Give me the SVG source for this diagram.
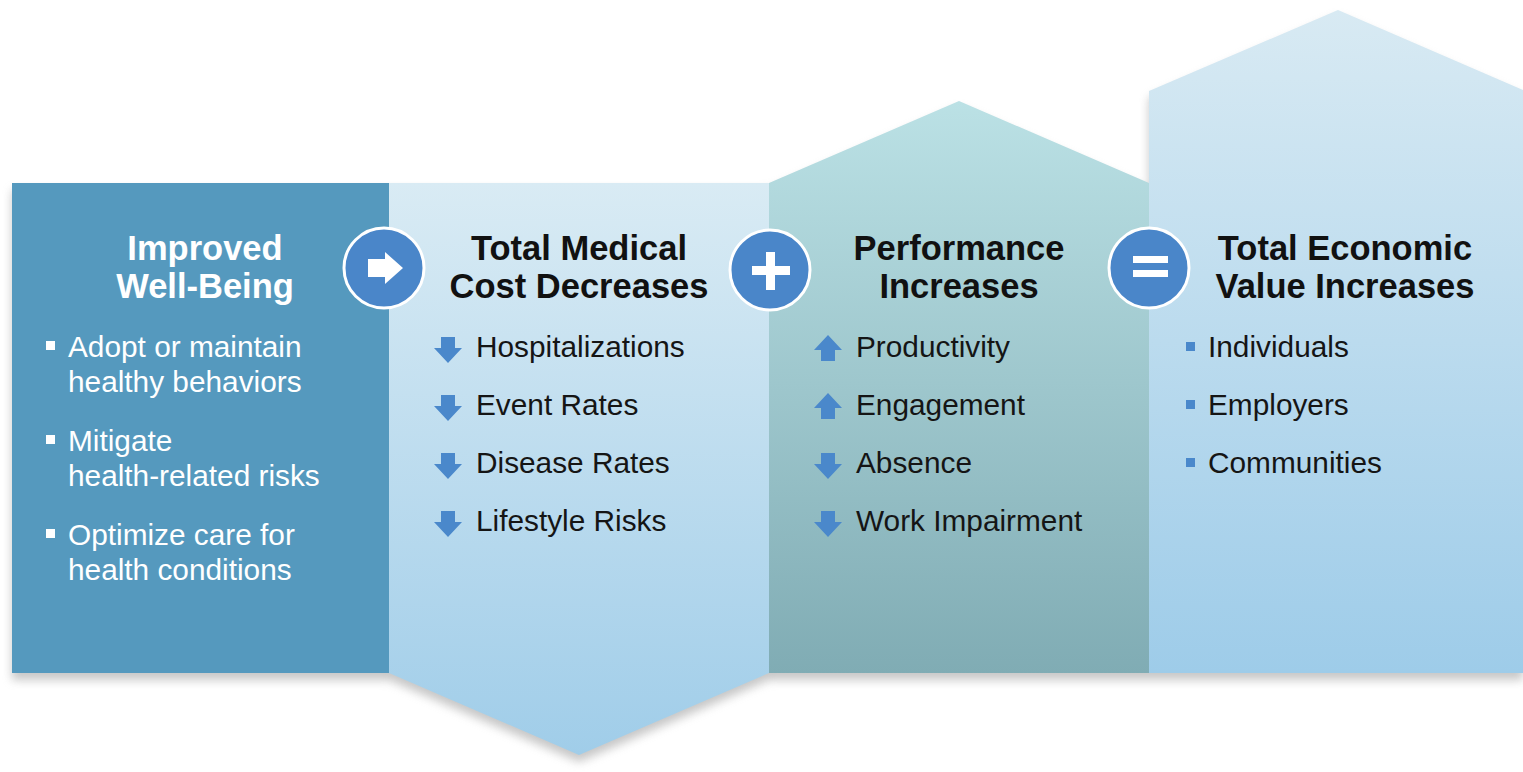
<svg xmlns="http://www.w3.org/2000/svg" width="1523" height="772" viewBox="0 0 1523 772">
  <defs>
    <linearGradient id="gCost" x1="0" y1="183" x2="0" y2="755" gradientUnits="userSpaceOnUse">
      <stop offset="0" stop-color="#d9ebf4"/>
      <stop offset="1" stop-color="#a0cde9"/>
    </linearGradient>
    <linearGradient id="gPerf" x1="0" y1="101" x2="0" y2="673" gradientUnits="userSpaceOnUse">
      <stop offset="0" stop-color="#bbe1e5"/>
      <stop offset="1" stop-color="#80acb4"/>
    </linearGradient>
    <linearGradient id="gValue" x1="0" y1="10" x2="0" y2="673" gradientUnits="userSpaceOnUse">
      <stop offset="0" stop-color="#d8eaf3"/>
      <stop offset="1" stop-color="#9ecce9"/>
    </linearGradient>
    <filter id="soft" x="-5%" y="-10%" width="110%" height="130%">
      <feGaussianBlur stdDeviation="5"/>
    </filter>
    <path id="arrowDown" d="M-7 -24 H7 V-13 H14 L0 2 L-14 -13 H-7 Z"/>
    <path id="arrowUp" d="M-7 2 H7 V-9 H14 L0 -24 L-14 -9 H-7 Z"/>
  </defs>
  <style>
    .title { font-family: "Liberation Sans", Arial, sans-serif; font-weight: bold; font-size: 34.5px; text-anchor: middle; fill: #111; }
    .title.light { fill: #ffffff; }
    .item { font-family: "Liberation Sans", Arial, sans-serif; font-size: 29.8px; fill: #151515; }
    .item.light { fill: #ffffff; }
    .icon { fill: #4a88cb; }
    .badge { fill: #4a86c9; stroke: #ffffff; stroke-width: 3; }
    .glyph { fill: #ffffff; }
  </style>

  <rect width="1523" height="772" fill="#ffffff"/>

  <!-- soft shadow under the whole band -->
  <path d="M12 183 L769 183 L959 101 L1149 183 L1149 91 L1338 10 L1523 90 L1523 673 L769 673 L579 755 L389 673 L12 673 Z"
        transform="translate(0,7)" fill="#9a9a9a" opacity="0.55" filter="url(#soft)"/>

  <!-- Improved Well-Being -->
  <g id="wellbeing">
    <rect x="12" y="183" width="377" height="490" fill="#5599be"/>
    <text class="title light" x="205" y="260">Improved</text>
    <text class="title light" x="205" y="298">Well-Being</text>
    <rect x="46" y="341" width="9" height="9" fill="#ffffff"/>
    <text class="item light" x="68" y="357">Adopt or maintain</text>
    <text class="item light" x="68" y="392">healthy behaviors</text>
    <rect x="46" y="435" width="9" height="9" fill="#ffffff"/>
    <text class="item light" x="68" y="451">Mitigate</text>
    <text class="item light" x="68" y="486">health-related risks</text>
    <rect x="46" y="529" width="9" height="9" fill="#ffffff"/>
    <text class="item light" x="68" y="545">Optimize care for</text>
    <text class="item light" x="68" y="580">health conditions</text>
  </g>

  <!-- Total Medical Cost Decreases -->
  <g id="cost">
    <path d="M389 183 H769 V673 L579 755 L389 673 Z" fill="url(#gCost)"/>
    <text class="title" x="579" y="260">Total Medical</text>
    <text class="title" x="579" y="298">Cost Decreases</text>
    <use href="#arrowDown" class="icon" x="448" y="361"/>
    <text class="item" x="476" y="357">Hospitalizations</text>
    <use href="#arrowDown" class="icon" x="448" y="419"/>
    <text class="item" x="476" y="415">Event Rates</text>
    <use href="#arrowDown" class="icon" x="448" y="477"/>
    <text class="item" x="476" y="473">Disease Rates</text>
    <use href="#arrowDown" class="icon" x="448" y="535"/>
    <text class="item" x="476" y="531">Lifestyle Risks</text>
  </g>

  <!-- Performance Increases -->
  <g id="performance">
    <path d="M769 183 L959 101 L1149 183 V673 H769 Z" fill="url(#gPerf)"/>
    <text class="title" x="959" y="260">Performance</text>
    <text class="title" x="959" y="298">Increases</text>
    <use href="#arrowUp" class="icon" x="828" y="359"/>
    <text class="item" x="856" y="357">Productivity</text>
    <use href="#arrowUp" class="icon" x="828" y="417"/>
    <text class="item" x="856" y="415">Engagement</text>
    <use href="#arrowDown" class="icon" x="828" y="477"/>
    <text class="item" x="856" y="473">Absence</text>
    <use href="#arrowDown" class="icon" x="828" y="535"/>
    <text class="item" x="856" y="531">Work Impairment</text>
  </g>

  <!-- Total Economic Value Increases -->
  <g id="value">
    <path d="M1149 91 L1338 10 L1523 90 V673 H1149 Z" fill="url(#gValue)"/>
    <text class="title" x="1345" y="260">Total Economic</text>
    <text class="title" x="1345" y="298">Value Increases</text>
    <rect x="1186" y="342" width="9" height="9" class="icon"/>
    <text class="item" x="1208" y="357">Individuals</text>
    <rect x="1186" y="400" width="9" height="9" class="icon"/>
    <text class="item" x="1208" y="415">Employers</text>
    <rect x="1186" y="458" width="9" height="9" class="icon"/>
    <text class="item" x="1208" y="473">Communities</text>
  </g>

  <!-- operator badges between the stages -->
  <g id="connectors">
    <g id="op-leads-to">
      <circle class="badge" cx="384" cy="268" r="40"/>
      <path class="glyph" d="M368 259 H385 V252 L403 268 L385 284 V277 H368 Z"/>
    </g>
    <g id="op-plus">
      <circle class="badge" cx="770" cy="270" r="40"/>
      <rect class="glyph" x="766" y="252" width="9" height="38"/>
      <rect class="glyph" x="752" y="266" width="38" height="9"/>
    </g>
    <g id="op-equals">
      <circle class="badge" cx="1149" cy="268" r="40"/>
      <rect class="glyph" x="1133" y="256" width="35" height="7"/>
      <rect class="glyph" x="1133" y="270" width="35" height="7"/>
    </g>
  </g>
</svg>
